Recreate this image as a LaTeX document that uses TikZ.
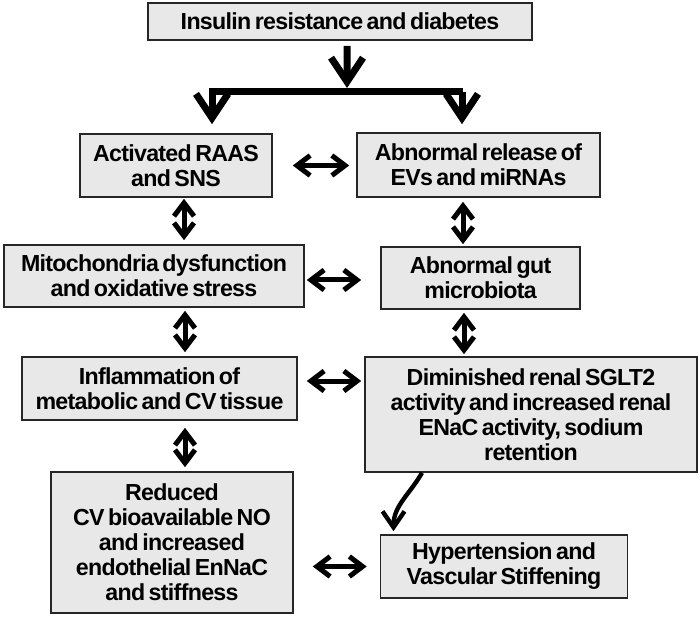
\documentclass[tikz,border=0pt]{standalone}
\usepackage{fontspec}
\setmainfont{Liberation Sans}[WordSpace=0.6, LetterSpace=-3]
\usepackage{tikz}
\usetikzlibrary{arrows.meta}
\tikzstyle{factorbox} = [rectangle, draw=black!85, line width=0.04cm, fill=black!9, align=center, inner sep=0pt, font=\bfseries\fontsize{16.5pt}{17.8pt}\selectfont]
\tikzstyle{biarrow} = [line width=0.125cm, {Straight Barb[length=0.33cm,width=0.5cm]}-{Straight Barb[length=0.33cm,width=0.5cm]}]
\tikzstyle{bigarrow} = [line width=0.175cm, -{Straight Barb[length=0.6cm,width=0.8cm]}]
\tikzstyle{trunk} = [line width=0.175cm]
\tikzstyle{curvearrow} = [line width=0.11cm, -{Straight Barb[length=0.4cm,width=0.55cm]}]

\begin{document}
\begin{tikzpicture}
        \useasboundingbox (0, 0) rectangle (17.5, -15.425);

        \node[factorbox, minimum width=9.6cm, minimum height=0.925cm] at (8.5, -0.5375) (Insulin) {Insulin resistance and diabetes};
        \node[factorbox, minimum width=4.8cm, minimum height=1.575cm] at (4.4, -4.1375) (RAAS) {Activated RAAS\\and SNS};
        \node[factorbox, minimum width=6.075cm, minimum height=1.6cm] at (11.9625, -4.125) (EVs) {Abnormal release of\\EVs and miRNAs};
        \node[factorbox, minimum width=7.5cm, minimum height=1.55cm] at (3.85, -6.9) (Mito) {Mitochondria dysfunction\\and oxidative stress};
        \node[factorbox, minimum width=4.975cm, minimum height=1.55cm] at (12.0125, -6.95) (Gut) {Abnormal gut\\microbiota};
        \node[factorbox, minimum width=6.875cm, minimum height=1.575cm] at (3.9875, -9.7125) (Inflam) {Inflammation of\\metabolic and CV tissue};
        \node[factorbox, minimum width=8.3cm, minimum height=2.875cm] at (13.275, -10.3625) (SGLT2) {Diminished renal SGLT2\\activity and increased renal\\ENaC activity, sodium\\retention};
        \node[factorbox, minimum width=6.05cm, minimum height=3.525cm] at (4.3, -13.5625) (Reduced) {Reduced\\CV bioavailable NO\\and increased\\endothelial EnNaC\\and stiffness};
        \node[factorbox, minimum width=6.175cm, minimum height=1.575cm] at (12.6, -14.1625) (Hyp) {Hypertension and\\Vascular Stiffening};

        % split from the top box
        \coordinate (fork) at (8.675, -2.3);
        \draw[bigarrow, shorten <=0.125cm] ([xshift=0.175cm]Insulin.south) -- ([yshift=0.1cm]fork);
        \draw[trunk] ([xshift=-3.45cm]fork) -- ([xshift=2.9cm]fork);
        \draw[bigarrow, shorten >=0.225cm] ([xshift=-3.375cm]fork) -- ([xshift=-3.375cm]fork |- RAAS.north);
        \draw[bigarrow, shorten >=0.2cm] ([xshift=2.875cm]fork) -- ([xshift=2.875cm]fork |- EVs.north);

        \draw[biarrow, shorten <=0.5cm, shorten >=0.175cm] (RAAS.east) -- (RAAS.east -| EVs.west);
        \draw[biarrow, shorten <=0.05cm, shorten >=0.475cm] ([yshift=-0.1cm]Mito.east) -- ([yshift=-0.1cm]Mito.east -| Gut.west);
        \draw[biarrow, shorten <=0.225cm, shorten >=0.075cm] ([yshift=0.1875cm]Inflam.east) -- ([yshift=0.1875cm]Inflam.east -| SGLT2.west);
        \draw[biarrow, shorten <=0.475cm, shorten >=0.325cm] (Hyp.west -| Reduced.east) -- (Hyp.west);

        \draw[biarrow, shorten <=0.025cm, shorten >=0.1cm] ([xshift=0.2cm]RAAS.south) -- ([xshift=0.2cm]RAAS.south |- Mito.north);
        \draw[biarrow, shorten <=0.1cm, shorten >=0.05cm] ([xshift=-0.3875cm]EVs.south) -- ([xshift=-0.3875cm]EVs.south |- Gut.north);
        \draw[biarrow, shorten <=0.075cm, shorten >=0.1cm] ([xshift=0.775cm]Mito.south) -- ([xshift=0.775cm]Mito.south |- Inflam.north);
        \draw[biarrow, shorten <=0.075cm, shorten >=0.05cm] ([xshift=-0.4125cm]Gut.south) -- ([xshift=-0.4125cm]Gut.south |- SGLT2.north);
        \draw[biarrow, shorten <=0.175cm, shorten >=0.1cm] ([xshift=0.6375cm]Inflam.south) -- ([xshift=0.6375cm]Inflam.south |- Reduced.north);

        \draw[curvearrow] ([xshift=-2.725cm]SGLT2.south) to[out=240, in=90] ([xshift=-2.7625cm, yshift=0.075cm]Hyp.north);
    \end{tikzpicture}
\end{document}
